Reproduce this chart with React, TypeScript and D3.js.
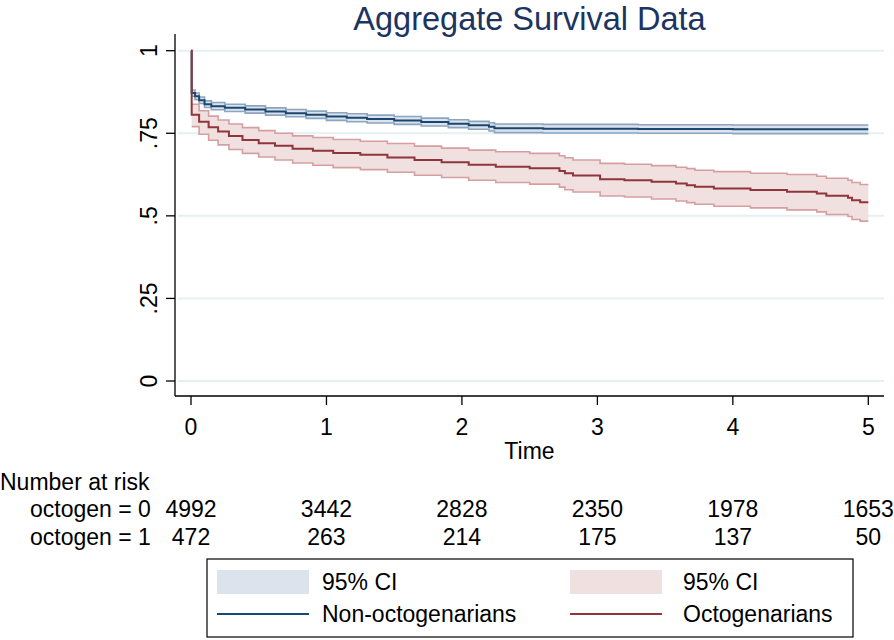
import React from "react";
import * as d3 from "d3";

const TITLE = "Aggregate Survival Data";
const X_TICKS = [0, 1, 2, 3, 4, 5];
const Y_TICKS = [0, 0.25, 0.5, 0.75, 1];
const Y_TICK_LABELS = ["0", ".25", ".5", ".75", "1"];
const T_MAX = 5;

// Non-octogenarians (octogen = 0)
const blueTimes = [0, 0.005, 0.03, 0.06, 0.1, 0.15, 0.25, 0.4, 0.55, 0.7, 0.85, 1.0, 1.15, 1.3, 1.5, 1.7, 1.9, 2.05, 2.2, 2.24, 2.6, 3.3, 4.0];
const blueSurv = [1, 0.872, 0.862, 0.85, 0.838, 0.832, 0.827, 0.822, 0.816, 0.811, 0.806, 0.801, 0.797, 0.793, 0.789, 0.784, 0.779, 0.774, 0.77, 0.765, 0.764, 0.763, 0.762];
const blueLo = [1, 0.862, 0.852, 0.84, 0.828, 0.821, 0.816, 0.811, 0.805, 0.8, 0.795, 0.789, 0.785, 0.781, 0.777, 0.772, 0.767, 0.762, 0.757, 0.752, 0.751, 0.75, 0.749];
const blueHi = [1, 0.881, 0.872, 0.86, 0.848, 0.843, 0.838, 0.833, 0.827, 0.822, 0.817, 0.812, 0.809, 0.805, 0.801, 0.796, 0.791, 0.786, 0.782, 0.778, 0.777, 0.776, 0.775];

// Octogenarians (octogen = 1)
const redTimes = [0, 0.005, 0.06, 0.13, 0.2, 0.28, 0.38, 0.5, 0.62, 0.75, 0.9, 1.05, 1.25, 1.45, 1.65, 1.85, 2.05, 2.25, 2.5, 2.72, 2.76, 2.82, 3.02, 3.2, 3.4, 3.58, 3.66, 3.72, 3.86, 4.13, 4.4, 4.62, 4.69, 4.85, 4.88, 4.94];
const redSurv = [1, 0.806, 0.785, 0.768, 0.755, 0.742, 0.73, 0.72, 0.712, 0.703, 0.697, 0.69, 0.685, 0.677, 0.669, 0.662, 0.655, 0.649, 0.644, 0.636, 0.629, 0.622, 0.611, 0.608, 0.603, 0.598, 0.593, 0.588, 0.583, 0.578, 0.573, 0.568, 0.561, 0.555, 0.547, 0.541];
const redLo = [1, 0.77, 0.747, 0.729, 0.715, 0.701, 0.689, 0.678, 0.669, 0.66, 0.653, 0.646, 0.64, 0.632, 0.623, 0.616, 0.608, 0.601, 0.596, 0.587, 0.579, 0.572, 0.56, 0.557, 0.551, 0.545, 0.54, 0.535, 0.529, 0.524, 0.518, 0.512, 0.504, 0.498, 0.489, 0.484];
const redHi = [1, 0.838, 0.818, 0.802, 0.79, 0.778, 0.767, 0.758, 0.75, 0.742, 0.737, 0.731, 0.726, 0.719, 0.711, 0.705, 0.699, 0.694, 0.689, 0.682, 0.676, 0.669, 0.659, 0.656, 0.652, 0.647, 0.643, 0.638, 0.634, 0.629, 0.625, 0.62, 0.614, 0.608, 0.601, 0.595];

// Number at risk
const RISK_TIMES = [0, 1, 2, 3, 4, 5];
const RISK_GROUP0 = [4992, 3442, 2828, 2350, 1978, 1653];
const RISK_GROUP1 = [472, 263, 214, 175, 137, 50];
const RISK_LABELS = ["octogen = 0", "octogen = 1"];

const LEGEND_LABELS = ["95% CI", "Non-octogenarians", "95% CI", "Octogenarians"];

const FONT = "'Liberation Sans', Arial, Helvetica, sans-serif";
const BLUE = "#1a476f";
const BLUE_EDGE = "#8ca5c0";
const BLUE_FILL = "#dde3ec";
const RED = "#90353b";
const RED_EDGE = "#d59fa2";
const RED_FILL = "#f0e0e0";
const GRID = "#e6eff2";
const TITLE_COLOR = "#1c3461";

type Pt = { t: number; s: number; lo: number; hi: number };

function buildSeries(times: number[], s: number[], lo: number[], hi: number[]): Pt[] {
  const pts: Pt[] = times.map((t, i) => ({ t, s: s[i], lo: lo[i], hi: hi[i] }));
  const last = pts[pts.length - 1];
  pts.push({ t: T_MAX, s: last.s, lo: last.lo, hi: last.hi });
  return pts;
}

export default function App() {
  const W = 894;
  const H = 640;
  const x = d3.scaleLinear().domain([0, 5]).range([191, 868.3]);
  const y = d3.scaleLinear().domain([0, 1]).range([381, 50.7]);

  const blue = buildSeries(blueTimes, blueSurv, blueLo, blueHi);
  const red = buildSeries(redTimes, redSurv, redLo, redHi);

  const line = d3
    .line<Pt>()
    .x((d) => x(d.t))
    .y((d) => y(d.s))
    .curve(d3.curveStepAfter);
  const loLine = d3
    .line<Pt>()
    .x((d) => x(d.t))
    .y((d) => y(d.lo))
    .curve(d3.curveStepAfter);
  const hiLine = d3
    .line<Pt>()
    .x((d) => x(d.t))
    .y((d) => y(d.hi))
    .curve(d3.curveStepAfter);
  const band = d3
    .area<Pt>()
    .x((d) => x(d.t))
    .y0((d) => y(d.lo))
    .y1((d) => y(d.hi))
    .curve(d3.curveStepAfter);

  const axisLeft = 175;
  const axisBottom = 396;
  const axisTop = 34;
  const axisRight = 884;

  const legendX0 = 207;
  const legendX1 = 853;
  const legendY0 = 559;
  const legendY1 = 637;
  const row1 = 582;
  const row2 = 614;
  const col1 = 217;
  const col2 = 570;
  const swW = 92;

  return (
    <svg
      width={W}
      height={H}
      style={{ position: "fixed", left: 0, top: 0, background: "#fff" }}
      fontFamily={FONT}
    >
      <rect x={0} y={0} width={W} height={H} fill="#fff" />
      <text x={529.5} y={29.5} textAnchor="middle" fontSize={32.5} fill={TITLE_COLOR}>
        {TITLE}
      </text>

      {/* grid */}
      {Y_TICKS.map((v) => (
        <line key={"g" + v} x1={178} x2={axisRight} y1={y(v)} y2={y(v)} stroke={GRID} strokeWidth={2} />
      ))}

      {/* CI bands */}
      <path d={band(blue.slice(1)) || ""} fill={BLUE_FILL} />
      <path d={band(red.slice(1)) || ""} fill={RED_FILL} />
      <path d={loLine(blue.slice(1)) || ""} fill="none" stroke={BLUE_EDGE} strokeWidth={1.6} />
      <path d={hiLine(blue.slice(1)) || ""} fill="none" stroke={BLUE_EDGE} strokeWidth={1.6} />
      <path d={loLine(red.slice(1)) || ""} fill="none" stroke={RED_EDGE} strokeWidth={1.6} />
      <path d={hiLine(red.slice(1)) || ""} fill="none" stroke={RED_EDGE} strokeWidth={1.6} />

      {/* survival lines */}
      <path d={line(blue) || ""} fill="none" stroke={BLUE} strokeWidth={2} />
      <path d={line(red) || ""} fill="none" stroke={RED} strokeWidth={2} />

      {/* axes */}
      <line x1={axisLeft} x2={axisLeft} y1={axisTop} y2={axisBottom} stroke="#000" strokeWidth={1.3} />
      <line x1={axisLeft} x2={axisRight} y1={axisBottom} y2={axisBottom} stroke="#000" strokeWidth={1.3} />
      {Y_TICKS.map((v, i) => (
        <g key={"yt" + v}>
          <line x1={166} x2={axisLeft} y1={y(v)} y2={y(v)} stroke="#000" strokeWidth={1.3} />
          <text
            transform={`translate(157,${y(v)}) rotate(-90)`}
            textAnchor="middle"
            fontSize={23}
            fill="#000"
          >
            {Y_TICK_LABELS[i]}
          </text>
        </g>
      ))}
      {X_TICKS.map((v) => (
        <g key={"xt" + v}>
          <line x1={x(v)} x2={x(v)} y1={axisBottom} y2={405} stroke="#000" strokeWidth={1.3} />
          <text x={x(v)} y={435} textAnchor="middle" fontSize={23} fill="#000">
            {v}
          </text>
        </g>
      ))}
      <text x={529.5} y={459} textAnchor="middle" fontSize={23} fill="#000">
        Time
      </text>

      {/* number at risk */}
      <text x={0} y={490} fontSize={23} fill="#000">
        Number at risk
      </text>
      {[RISK_GROUP0, RISK_GROUP1].map((grp, r) => (
        <g key={"risk" + r}>
          <text x={30} y={r === 0 ? 517 : 545} fontSize={23} fill="#000">
            {RISK_LABELS[r]}
          </text>
          {grp.map((n, i) => (
            <text
              key={i}
              x={x(RISK_TIMES[i])}
              y={r === 0 ? 517 : 545}
              textAnchor="middle"
              fontSize={23}
              fill="#000"
            >
              {n}
            </text>
          ))}
        </g>
      ))}

      {/* legend */}
      <rect
        x={legendX0}
        y={legendY0}
        width={legendX1 - legendX0}
        height={legendY1 - legendY0}
        fill="#fff"
        stroke="#000"
        strokeWidth={1.2}
      />
      <rect x={col1} y={row1 - 12} width={swW} height={24} fill={BLUE_FILL} />
      <text x={col1 + 105} y={row1 + 8} fontSize={23} fill="#000">
        {LEGEND_LABELS[0]}
      </text>
      <line x1={col1} x2={col1 + swW} y1={row2} y2={row2} stroke={BLUE} strokeWidth={2} />
      <text x={col1 + 105} y={row2 + 8} fontSize={23} fill="#000">
        {LEGEND_LABELS[1]}
      </text>
      <rect x={col2} y={row1 - 12} width={swW} height={24} fill={RED_FILL} />
      <text x={col2 + 113} y={row1 + 8} fontSize={23} fill="#000">
        {LEGEND_LABELS[2]}
      </text>
      <line x1={col2} x2={col2 + swW} y1={row2} y2={row2} stroke={RED} strokeWidth={2} />
      <text x={col2 + 113} y={row2 + 8} fontSize={23} fill="#000">
        {LEGEND_LABELS[3]}
      </text>
    </svg>
  );
}
